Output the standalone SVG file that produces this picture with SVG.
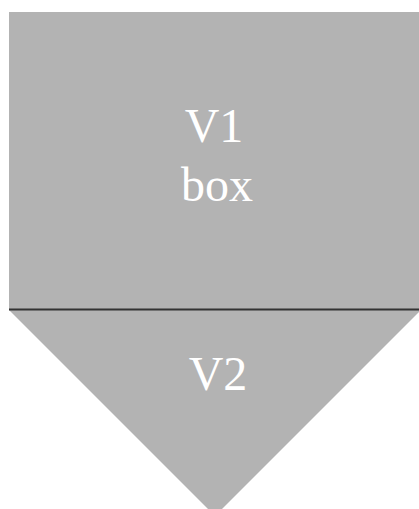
<svg xmlns="http://www.w3.org/2000/svg" width="419" height="509" viewBox="0 0 419 509">
<style>
.shape{fill:#b3b3b3;stroke:none}
.lbl{font-family:"Liberation Serif","Times New Roman",serif;font-size:48px;fill:#ffffff;text-anchor:middle}
</style>
<rect width="419" height="509" fill="#ffffff"/>
<g id="V2">
<polygon class="shape" points="9,310 421,310 215,516"/>
<text class="lbl" x="218" y="390">V2</text>
</g>
<g id="V1">
<rect class="shape" x="9" y="12" width="412" height="298"/>
<text class="lbl" x="214" y="142">V1</text>
<text class="lbl" x="217" y="201">box</text>
</g>
<g id="connectors">
<line x1="9" y1="309.5" x2="421" y2="309.5" stroke="#333333" stroke-width="2"/>
</g>
</svg>
